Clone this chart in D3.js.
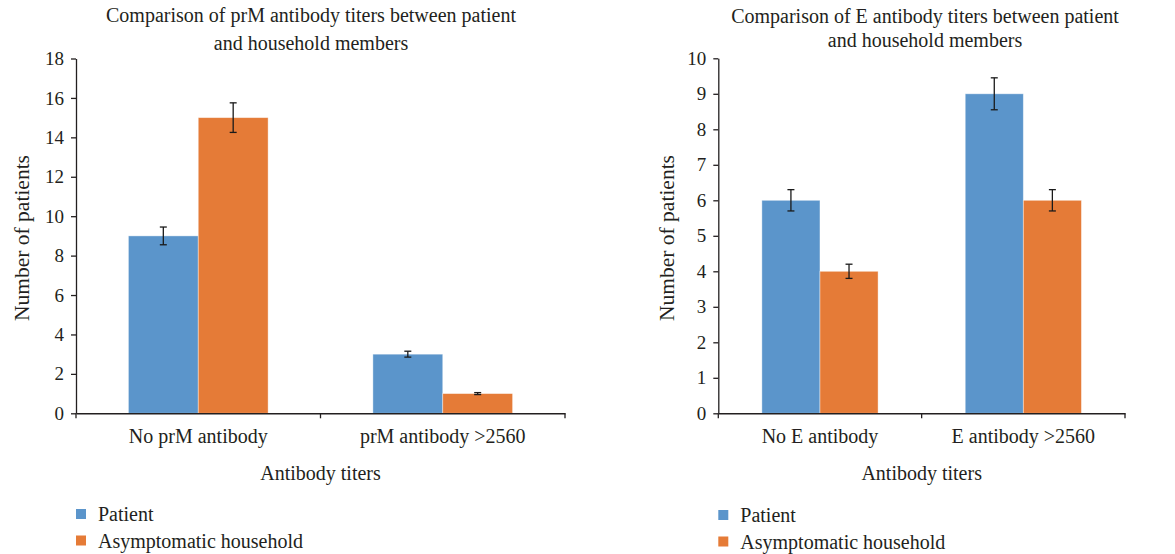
<!DOCTYPE html>
<html><head><meta charset="utf-8">
<script src="https://cdn.jsdelivr.net/npm/d3@7"></script>
<style>body{margin:0;background:#fff}svg{display:block}svg text{font-family:"Liberation Serif","DejaVu Serif",serif !important;fill:#231f20}</style>
</head><body><svg id="c" width="1175" height="554"></svg>
<script>
const seriesNames = ["Patient", "Asymptomatic household"];
const colors = ["#5B95CB", "#E57B37"];
// Chart 1: prM
const prmCategories = ["No prM antibody", "prM antibody >2560"];
const prmPatient = [9, 3];
const prmHousehold = [15, 1];
const prmPatientErr = [0.45, 0.15];
const prmHouseholdErr = [0.75, 0.05];
const prmTicks = [0, 2, 4, 6, 8, 10, 12, 14, 16, 18];
// Chart 2: E
const eCategories = ["No E antibody", "E antibody >2560"];
const ePatient = [6, 9];
const eHousehold = [4, 6];
const ePatientErr = [0.3, 0.45];
const eHouseholdErr = [0.2, 0.3];
const eTicks = [0, 1, 2, 3, 4, 5, 6, 7, 8, 9, 10];

const svg = d3.select("#c");

function drawChart(cfg) {
  const g = svg.append("g");
  const x0 = d3.scaleBand().domain(cfg.categories).range([cfg.left, cfg.right]).paddingInner(1.5/3.5).paddingOuter(0.75/3.5);
  const x1 = d3.scaleBand().domain([0, 1]).range([0, x0.bandwidth()]);
  const y = d3.scaleLinear().domain([0, cfg.max]).range([cfg.bottom, cfg.top]);
  const vals = [cfg.s1, cfg.s2], errs = [cfg.e1, cfg.e2];
  cfg.categories.forEach((c, i) => {
    [0, 1].forEach(s => {
      const v = vals[s][i];
      g.append("rect").attr("x", x0(c) + x1(s)).attr("y", y(v))
        .attr("width", x1.bandwidth()).attr("height", y(0) - y(v))
        .attr("fill", colors[s]).attr("stroke", "rgba(255,255,255,0.5)").attr("stroke-width", 0.8);
    });
  });
  cfg.categories.forEach((c, i) => {
    [0, 1].forEach(s => {
      const v = vals[s][i], e = errs[s][i];
      const cx = x0(c) + x1(s) + x1.bandwidth() / 2;
      const eg = g.append("g").attr("stroke", "#1a1a1a").attr("stroke-width", 1.3);
      eg.append("line").attr("x1", cx).attr("x2", cx).attr("y1", y(v + e)).attr("y2", y(v - e));
      eg.append("line").attr("x1", cx - 3.5).attr("x2", cx + 3.5).attr("y1", y(v + e)).attr("y2", y(v + e));
      eg.append("line").attr("x1", cx - 3.5).attr("x2", cx + 3.5).attr("y1", y(v - e)).attr("y2", y(v - e));
    });
  });
  // y axis
  const ya = g.append("g").attr("transform", `translate(${cfg.left},0)`)
    .call(d3.axisLeft(y).tickValues(cfg.ticks).tickSize(5).tickPadding(7).tickSizeOuter(0));
  ya.attr("font-family", null);
  ya.select(".domain").attr("stroke", "#231f20").attr("stroke-width", 1.3);
  ya.selectAll(".tick line").attr("stroke", "#231f20").attr("stroke-width", 1.3);
  ya.selectAll("text").style("font-size", "19px").attr("fill", "#231f20");
  // x axis
  const xa = g.append("g").attr("transform", `translate(0,${cfg.bottom})`)
    .call(d3.axisBottom(x0).tickSize(0).tickPadding(16));
  xa.attr("font-family", null);
  xa.select(".domain").attr("stroke", "#231f20").attr("stroke-width", 1.5);
  xa.selectAll("text").style("font-size", "20px").attr("fill", "#231f20");
  const bounds = [cfg.left, cfg.left + (cfg.right - cfg.left) / 2, cfg.right];
  bounds.forEach(bx => g.append("line").attr("x1", bx).attr("x2", bx).attr("y1", cfg.bottom).attr("y2", cfg.bottom + 5).attr("stroke", "#231f20").attr("stroke-width", 1.3));
  // titles
  cfg.titleLines.forEach((t, k) => g.append("text").attr("x", cfg.titleX).attr("y", cfg.titleY[k])
    .attr("text-anchor", "middle").style("font-size", "20px").text(t));
  g.append("text").attr("x", (cfg.left + cfg.right) / 2).attr("y", cfg.bottom + 67).attr("text-anchor", "middle")
    .style("font-size", "20px").text("Antibody titers");
  g.append("text").attr("transform", `translate(${cfg.ylabX},238) rotate(-90)`)
    .attr("text-anchor", "middle").attr("dy", "0.35em").style("font-size", "21.5px").text("Number of patients");
  // legend
  seriesNames.forEach((n, k) => {
    const ly = cfg.legY + k * 26.5;
    g.append("rect").attr("x", cfg.left).attr("y", ly).attr("width", 10).attr("height", 10).attr("fill", colors[k]);
    g.append("text").attr("x", cfg.left + 22).attr("y", ly + 12).style("font-size", "20px").text(n);
  });
}

drawChart({categories: prmCategories, s1: prmPatient, s2: prmHousehold, e1: prmPatientErr, e2: prmHouseholdErr,
  ticks: prmTicks, max: 18, left: 76, right: 565, top: 58.5, bottom: 413.3,
  titleLines: ["Comparison of prM antibody titers between patient", "and household members"], titleX: 311, titleY: [22, 50],
  ylabX: 21, legY: 509});
drawChart({categories: eCategories, s1: ePatient, s2: eHousehold, e1: ePatientErr, e2: eHouseholdErr,
  ticks: eTicks, max: 10, left: 718.3, right: 1125, top: 58.3, bottom: 413.3,
  titleLines: ["Comparison of E antibody titers between patient", "and household members"], titleX: 925, titleY: [22.5, 47],
  ylabX: 666, legY: 510});
</script></body></html>
